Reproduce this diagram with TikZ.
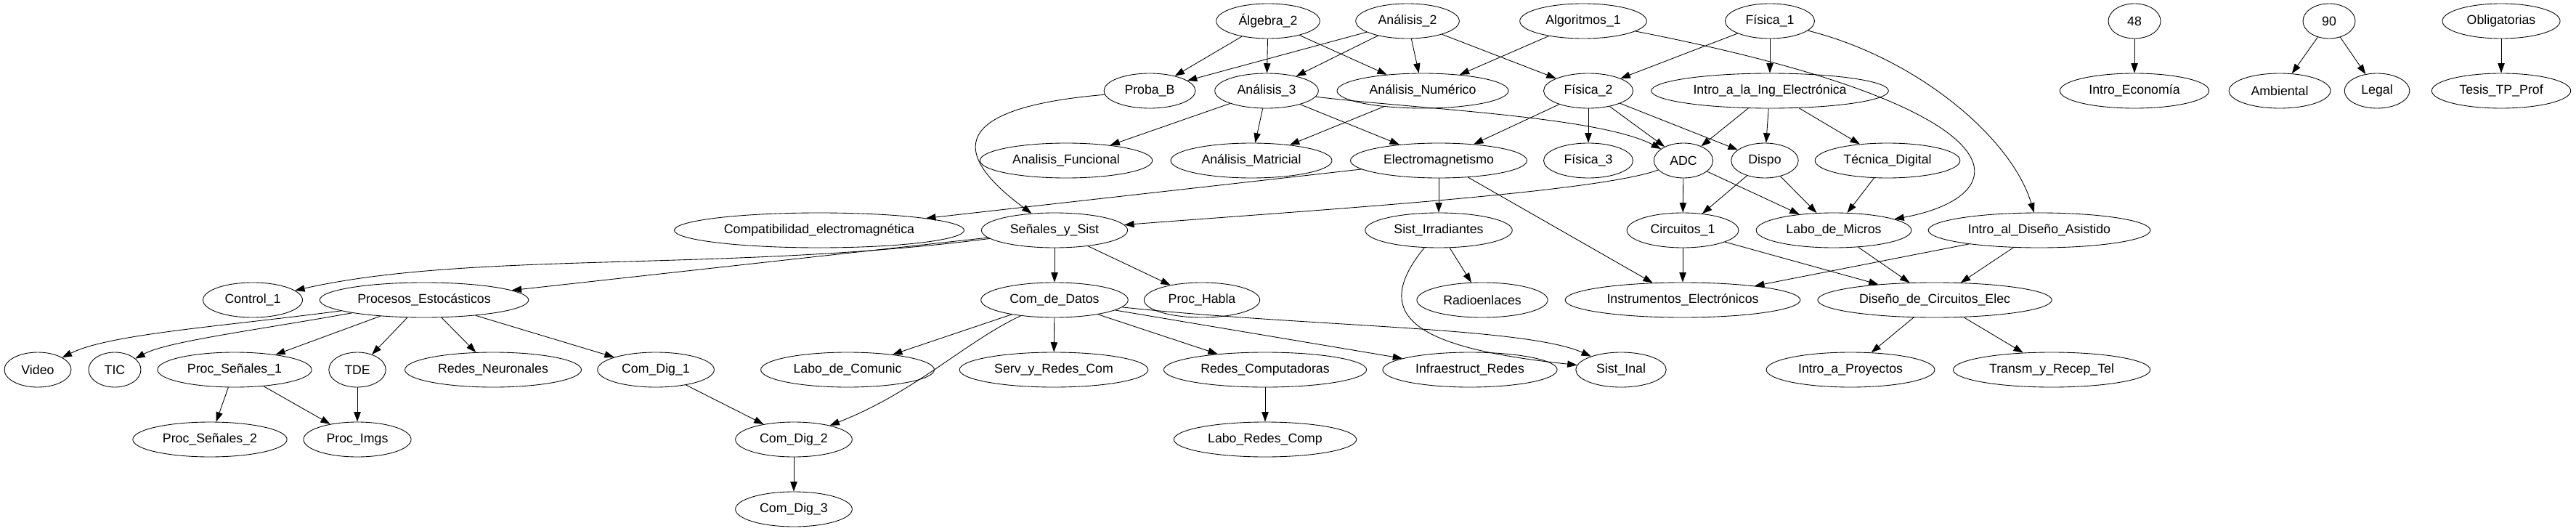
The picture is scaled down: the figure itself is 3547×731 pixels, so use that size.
\documentclass[tikz,border=0pt]{standalone}
\usepackage{fontspec}
\setmainfont{Liberation Sans}
\usetikzlibrary{shapes.geometric,arrows.meta}
\begin{document}
\begin{tikzpicture}[x=0.75pt,y=-0.75pt,line width=0.65pt,>={Triangle[length=10pt,width=7pt]}]
	\tikzstyle{materia}=[ellipse,draw,font=\fontsize{13.3pt}{15pt}\selectfont,inner xsep=7.5pt,inner ysep=2pt,minimum width=54pt,minimum height=36pt];
	\useasboundingbox (0,0) rectangle (3547,731);
	%% first row
	\node[materia] (alg2)  at (1746,29) {Álgebra\_2};
	\node[materia] (ana2)  at (1938,29) {Análisis\_2};
	\node[materia] (algo1) at (2180,29) {Algoritmos\_1};
	\node[materia] (fis1)  at (2437,29) {Física\_1};
	\node[materia] (c48)   at (2939,29) {48};
	\node[materia] (c90)   at (3207,29) {90};
	\node[materia] (oblig) at (3444,29) {Obligatorias};
	%% second row
	\node[materia] (proba) at (1583,125) {Proba\_B};
	\node[materia] (ana3)  at (1744,125) {Análisis\_3};
	\node[materia] (anum)  at (1959,125) {Análisis\_Numérico};
	\node[materia] (fis2)  at (2187,125) {Física\_2};
	\node[materia] (intro) at (2437,125) {Intro\_a\_la\_Ing\_Electrónica};
	\node[materia] (econ)  at (2939,125) {Intro\_Economía};
	\node[materia] (amb)   at (3139,125) {Ambiental};
	\node[materia] (legal) at (3273,125) {Legal};
	\node[materia] (tesis) at (3444,125) {Tesis\_TP\_Prof};
	%% third row
	\node[materia] (afun)  at (1468,221) {Analisis\_Funcional};
	\node[materia] (amat)  at (1723,221) {Análisis\_Matricial};
	\node[materia] (emag)  at (1981,221) {Electromagnetismo};
	\node[materia] (fis3)  at (2187,221) {Física\_3};
	\node[materia] (adc)   at (2318,221) {ADC};
	\node[materia] (dispo) at (2430,221) {Dispo};
	\node[materia] (tdig)  at (2599,221) {Técnica\_Digital};
	%% fourth row
	\node[materia] (compat)   at (1128,317) {Compatibilidad\_electromagnética};
	\node[materia] (senales)  at (1452,317) {Señales\_y\_Sist};
	\node[materia] (irrad)    at (1981,317) {Sist\_Irradiantes};
	\node[materia] (circ1)    at (2317,317) {Circuitos\_1};
	\node[materia] (lmicros)  at (2525,317) {Labo\_de\_Micros};
	\node[materia] (idisenio) at (2808,317) {Intro\_al\_Diseño\_Asistido};
	%% fifth row
	\node[materia] (control) at (348,413)  {Control\_1};
	\node[materia] (procest) at (584,413)  {Procesos\_Estocásticos};
	\node[materia] (comdat)  at (1452,413) {Com\_de\_Datos};
	\node[materia] (habla)   at (1655,413) {Proc\_Habla};
	\node[materia] (radio)   at (2041,413) {Radioenlaces};
	\node[materia] (instr)   at (2317,413) {Instrumentos\_Electrónicos};
	\node[materia] (disenio) at (2664,413) {Diseño\_de\_Circuitos\_Elec};
	%% sixth row
	\node[materia] (video)   at (52,509)   {Video};
	\node[materia] (tic)     at (158,509)  {TIC};
	\node[materia] (pseni)   at (323,509)  {Proc\_Señales\_1};
	\node[materia] (tde)     at (492,509)  {TDE};
	\node[materia] (redneu)  at (679,509)  {Redes\_Neuronales};
	\node[materia] (cdig1)   at (903,509)  {Com\_Dig\_1};
	\node[materia] (lcomu)   at (1167,509) {Labo\_de\_Comunic};
	\node[materia] (serv)    at (1451,509) {Serv\_y\_Redes\_Com};
	\node[materia] (redcomp) at (1742,509) {Redes\_Computadoras};
	\node[materia] (infra)   at (2024,509) {Infraestruct\_Redes};
	\node[materia] (inal)    at (2232,509) {Sist\_Inal};
	\node[materia] (proy)    at (2548,509) {Intro\_a\_Proyectos};
	\node[materia] (transm)  at (2825,509) {Transm\_y\_Recep\_Tel};
	%% seventh and eighth row
	\node[materia] (psenii) at (289,605)  {Proc\_Señales\_2};
	\node[materia] (imgs)   at (492,605)  {Proc\_Imgs};
	\node[materia] (cdig2)  at (1093,605) {Com\_Dig\_2};
	\node[materia] (lredes) at (1742,605) {Labo\_Redes\_Comp};
	\node[materia] (cdig3)  at (1093,701) {Com\_Dig\_3};
	%% correlatives, first row
	\draw[->] (alg2) -- (proba);
	\draw[->] (alg2) -- (ana3);
	\draw[->] (alg2) -- (anum);
	\draw[->] (ana2) -- (proba);
	\draw[->] (ana2) -- (ana3);
	\draw[->] (ana2) -- (anum);
	\draw[->] (ana2) -- (fis2);
	\draw[->] (algo1) -- (anum);
	\draw[->] (algo1) .. controls (2800,150) and (2780,270) .. (lmicros);
	\draw[->] (fis1) -- (fis2);
	\draw[->] (fis1) -- (intro);
	\draw[->] (fis1) .. controls (2640,80) and (2770,190) .. (idisenio);
	\draw[->] (c48) -- (econ);
	\draw[->] (c90) -- (amb);
	\draw[->] (c90) -- (legal);
	\draw[->] (oblig) -- (tesis);
	%% correlatives, second row
	\draw[->] (proba) .. controls (1290,150) and (1320,220) .. (senales);
	\draw[->] (ana3) -- (afun);
	\draw[->] (ana3) -- (amat);
	\draw[->] (ana3) -- (emag);
	\draw[->] (ana3) .. controls (1950,150) and (2200,160) .. (adc);
	\draw[->] (anum) -- (amat);
	\draw[->] (fis2) -- (emag);
	\draw[->] (fis2) -- (fis3);
	\draw[->] (fis2) -- (adc);
	\draw[->] (fis2) -- (dispo);
	\draw[->] (intro) -- (adc);
	\draw[->] (intro) -- (dispo);
	\draw[->] (intro) -- (tdig);
	%% correlatives, third row
	\draw[->] (emag) -- (compat);
	\draw[->] (emag) -- (irrad);
	\draw[->] (emag) -- (instr);
	\draw[->] (adc) .. controls (2200,265) and (1800,290) .. (senales);
	\draw[->] (adc) -- (circ1);
	\draw[->] (adc) -- (lmicros);
	\draw[->] (dispo) -- (circ1);
	\draw[->] (dispo) -- (lmicros);
	\draw[->] (tdig) -- (lmicros);
	%% correlatives, fourth row
	\draw[->] (senales) .. controls (1000,375) and (650,345) .. (control);
	\draw[->] (senales) -- (procest);
	\draw[->] (senales) -- (comdat);
	\draw[->] (senales) -- (habla);
	\draw[->] (irrad) -- (radio);
	\draw[->] (irrad) .. controls (1880,440) and (1960,480) .. (inal);
	\draw[->] (circ1) -- (instr);
	\draw[->] (circ1) -- (disenio);
	\draw[->] (lmicros) -- (disenio);
	\draw[->] (idisenio) -- (instr);
	\draw[->] (idisenio) -- (disenio);
	%% correlatives, fifth row
	\draw[->] (procest) .. controls (300,450) and (150,460) .. (video);
	\draw[->] (procest) .. controls (350,455) and (230,470) .. (tic);
	\draw[->] (procest) -- (pseni);
	\draw[->] (procest) -- (tde);
	\draw[->] (procest) -- (redneu);
	\draw[->] (procest) -- (cdig1);
	\draw[->] (comdat) -- (lcomu);
	\draw[->] (comdat) .. controls (1330,470) and (1260,540) .. (cdig2);
	\draw[->] (comdat) -- (serv);
	\draw[->] (comdat) -- (redcomp);
	\draw[->] (comdat) -- (infra);
	\draw[->] (comdat) .. controls (1800,450) and (2100,450) .. (inal);
	\draw[->] (disenio) -- (proy);
	\draw[->] (disenio) -- (transm);
	%% correlatives, last rows
	\draw[->] (pseni) -- (psenii);
	\draw[->] (pseni) -- (imgs);
	\draw[->] (tde) -- (imgs);
	\draw[->] (cdig1) -- (cdig2);
	\draw[->] (redcomp) -- (lredes);
	\draw[->] (cdig2) -- (cdig3);
\end{tikzpicture}
\end{document}
